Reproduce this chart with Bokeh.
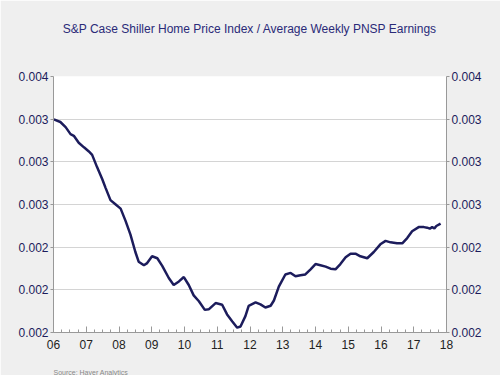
from bokeh.plotting import figure
from bokeh.models import (LinearAxis, FixedTicker, Range1d, Title, PrintfTickFormatter, ColumnDataSource)
from bokeh.embed import file_html
from bokeh.resources import INLINE

# decimal year
years = [2006.01, 2006.21, 2006.37, 2006.52, 2006.62, 2006.77, 2006.93, 2007.08, 2007.18, 2007.33,
         2007.49, 2007.59, 2007.74, 2007.89, 2008.05, 2008.20, 2008.35, 2008.50, 2008.60, 2008.76,
         2008.86, 2009.01, 2009.17, 2009.32, 2009.52, 2009.67, 2009.83, 2009.98, 2010.13, 2010.28,
         2010.44, 2010.62, 2010.74, 2010.95, 2011.15, 2011.30, 2011.46, 2011.61, 2011.71, 2011.86,
         2011.96, 2012.17, 2012.32, 2012.47, 2012.63, 2012.73, 2012.88, 2013.08, 2013.24, 2013.39,
         2013.54, 2013.69, 2013.85, 2014.00, 2014.15, 2014.31, 2014.46, 2014.61, 2014.76, 2014.92,
         2015.07, 2015.22, 2015.37, 2015.58, 2015.78, 2015.98, 2016.14, 2016.29, 2016.49, 2016.65,
         2016.80, 2016.95, 2017.15, 2017.31, 2017.41, 2017.49, 2017.56, 2017.63, 2017.69, 2017.82]
ratio = [0.003298, 0.003280, 0.003244, 0.003195, 0.003183, 0.003134, 0.003102, 0.003073, 0.003049, 0.002963,
         0.002878, 0.002817, 0.002731, 0.002702, 0.002671, 0.002585, 0.002488, 0.002366, 0.002298, 0.002273,
         0.002288, 0.002336, 0.002322, 0.002268, 0.002183, 0.002134, 0.002159, 0.002190, 0.002134, 0.002061,
         0.002020, 0.001959, 0.001963, 0.002007, 0.001995, 0.001927, 0.001878, 0.001834, 0.001842, 0.001915,
         0.001988, 0.002012, 0.001998, 0.001976, 0.001988, 0.002025, 0.002122, 0.002208, 0.002219, 0.002195,
         0.002202, 0.002208, 0.002244, 0.002281, 0.002273, 0.002263, 0.002249, 0.002244, 0.002281, 0.002329,
         0.002354, 0.002354, 0.002336, 0.002322, 0.002366, 0.002420, 0.002444, 0.002434, 0.002427, 0.002427,
         0.002464, 0.002512, 0.002541, 0.002541, 0.002537, 0.002530, 0.002541, 0.002532, 0.002549, 0.002566]

x_ticks = list(range(2006, 2019))
x_labels = ["06", "07", "08", "09", "10", "11", "12", "13", "14", "15", "16", "17", "18"]
y_ticks = [0.0018, 0.0021, 0.0024, 0.0027, 0.0030, 0.0033, 0.0036]

NAVY = "#1c1c5c"
FONT = "Liberation Sans"
BG = "#efefef"

p = figure(width=500, height=375, output_backend="svg", toolbar_location=None,
           x_range=Range1d(2006, 2018), y_range=Range1d(0.0018, 0.0036),
           min_border_left=53, min_border_right=54, min_border_top=0, min_border_bottom=0)
p.background_fill_color = "white"
p.border_fill_color = BG
p.outline_line_color = None
p.title_location = None

# background-coloured spacer between frame and main title, then main title (outermost)
p.add_layout(Title(text=".", text_font_size="12px", standoff=11, text_color=BG), "above")
p.add_layout(Title(text="S&P Case Shiller Home Price Index / Average Weekly PNSP Earnings",
                   align="center", text_font=FONT, text_font_size="12px",
                   text_font_style="normal", text_color="#2a2a78", standoff=38), "above")

src = ColumnDataSource(dict(x=years, y=ratio))
p.line("x", "y", source=src, line_color=NAVY, line_width=2.5)

p.xgrid.visible = False
p.ygrid.ticker = FixedTicker(ticks=y_ticks)
p.ygrid.grid_line_color = "#d4d4d4"
p.ygrid.grid_line_width = 1

minor = [2006 + q * 0.25 for q in range(0, 49)]
xa = p.xaxis[0]
xa.ticker = FixedTicker(ticks=x_ticks, minor_ticks=minor)
xa.major_label_overrides = {t: l for t, l in zip(x_ticks, x_labels)}
xa.major_label_text_font = FONT
xa.major_label_text_font_size = "12px"
xa.major_label_text_color = "#222222"
xa.axis_line_color = "#999999"
xa.major_tick_line_color = "#999999"
xa.minor_tick_line_color = "#999999"
xa.major_tick_in = 6
xa.major_tick_out = 0
xa.minor_tick_in = 3
xa.minor_tick_out = 0
xa.major_label_standoff = 7


def style_y(ax):
    ax.ticker = FixedTicker(ticks=y_ticks)
    ax.formatter = PrintfTickFormatter(format="%.3f")
    ax.major_label_text_font = FONT
    ax.major_label_text_font_size = "12px"
    ax.major_label_text_color = NAVY
    ax.axis_line_color = "#999999"
    ax.major_tick_line_color = "#999999"
    ax.major_tick_in = 0
    ax.major_tick_out = 3
    ax.minor_tick_line_color = None
    ax.major_label_standoff = 2


style_y(p.yaxis[0])
ra = LinearAxis()
style_y(ra)
p.add_layout(ra, "right")

# background-coloured spacer below the axis, then the source note at the bottom edge
p.add_layout(Title(text=".", text_font_size="12px", standoff=4, text_color=BG), "below")
p.add_layout(Title(text="Source:  Haver Analytics", align="left", text_font=FONT,
                   text_font_size="7px", text_font_style="normal", text_color="#888888",
                   standoff=0), "below")

open("out.html", "w").write(file_html(p, INLINE))
